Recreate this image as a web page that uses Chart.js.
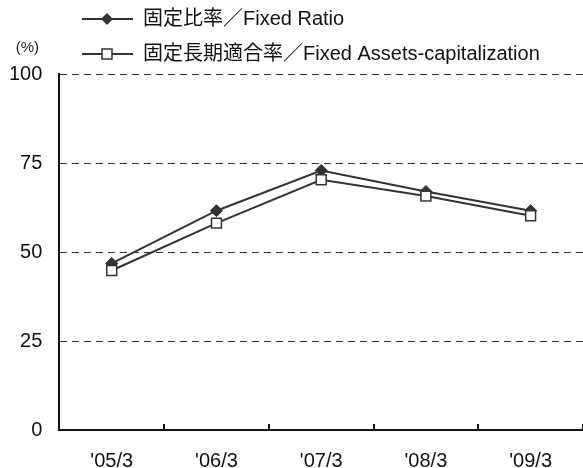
<!DOCTYPE html>
<html>
<head>
<meta charset="utf-8">
<script src="https://cdn.jsdelivr.net/npm/chart.js@4"></script>
<style>
  html, body { margin: 0; padding: 0; background: #fff; }
  #wrap { width: 583px; height: 468px; position: relative; }
</style>
</head>
<body>
<div id="wrap"><canvas id="grafico"></canvas></div>
<script>
// data
const periodos = ["'05/3", "'06/3", "'07/3", "'08/3", "'09/3"];
const fixedRatio = [46.8, 61.6, 72.9, 67.0, 61.6];
const fixedAssetsCap = [44.8, 58.1, 70.3, 65.7, 60.2];
const yTicks = [0, 25, 50, 75, 100];
const nomes = ['固定比率／Fixed Ratio', '固定長期適合率／Fixed Assets-capitalization'];

const fonte = "'Liberation Sans', 'Noto Sans CJK JP', sans-serif";
const cinza = '#333333';

// legend symbol: line with marker, drawn into a small canvas
function simbolo(tipo) {
  const c = document.createElement('canvas');
  c.width = 126;
  c.height = 16;
  const g = c.getContext('2d');
  g.strokeStyle = cinza;
  g.lineWidth = 2;
  g.beginPath();
  g.moveTo(75, 8);
  g.lineTo(126, 8);
  g.stroke();
  if (tipo === 'diamond') {
    g.fillStyle = cinza;
    g.beginPath();
    g.moveTo(100, 2); g.lineTo(106, 8); g.lineTo(100, 14); g.lineTo(94, 8);
    g.closePath();
    g.fill();
  } else {
    g.fillStyle = '#fff';
    g.fillRect(95, 3, 10, 10);
    g.lineWidth = 1.5;
    g.strokeRect(95, 3, 10, 10);
  }
  return c;
}
const simbolos = [simbolo('diamond'), simbolo('square')];

const rotuloPct = {
  id: 'rotuloPct',
  afterDraw(chart) {
    const area = chart.chartArea;
    const ctx = chart.ctx;
    ctx.save();
    ctx.font = '15px ' + fonte;
    ctx.fillStyle = '#222';
    ctx.textAlign = 'center';
    ctx.textBaseline = 'middle';
    ctx.fillText('(%)', area.left - 32, area.top - 26);
    ctx.restore();
  }
};

const ctx = document.getElementById('grafico').getContext('2d');
new Chart(ctx, {
  type: 'line',
  data: {
    labels: periodos,
    datasets: [{
      label: nomes[0],
      data: fixedRatio,
      borderColor: cinza,
      borderWidth: 2,
      pointStyle: 'rectRot',
      pointRadius: 6,
      pointBackgroundColor: cinza,
      pointBorderColor: cinza,
      pointBorderWidth: 1,
      tension: 0,
      order: 2
    }, {
      label: nomes[1],
      data: fixedAssetsCap,
      borderColor: cinza,
      borderWidth: 2,
      pointStyle: 'rect',
      pointRadius: 7,
      pointBackgroundColor: '#fff',
      pointBorderColor: cinza,
      pointBorderWidth: 1.5,
      tension: 0,
      order: 1
    }]
  },
  options: {
    responsive: true,
    maintainAspectRatio: false,
    animation: false,
    layout: {
      autoPadding: false,
      padding: { left: -8, right: -1, top: -8, bottom: -30 }
    },
    scales: {
      x: {
        offset: true,
        afterFit(scale) {
          scale.paddingLeft = 0;
          scale.paddingRight = 0;
        },
        grid: {
          offset: true,
          drawOnChartArea: false,
          tickLength: -6,
          color: '#111',
          lineWidth: 2
        },
        border: { color: '#111', width: 2 },
        ticks: {
          color: '#111',
          padding: 25,
          font: { family: fonte, size: 20 }
        }
      },
      y: {
        min: 0,
        max: 100,
        afterBuildTicks(scale) {
          scale.ticks = yTicks.map(v => ({ value: v }));
        },
        afterFit(scale) {
          scale.paddingTop = 74;
        },
        grid: {
          drawTicks: false,
          color: ctx => ctx.tick && ctx.tick.value === 0 ? 'rgba(0,0,0,0)' : '#333',
          lineWidth: 1
        },
        border: { color: '#111', width: 2, dash: [7, 5] },
        ticks: {
          color: '#111',
          padding: 17,
          font: { family: fonte, size: 20 }
        }
      }
    },
    plugins: {
      legend: {
        position: 'top',
        align: 'start',
        labels: {
          usePointStyle: true,
          pointStyleWidth: 126,
          padding: 15,
          color: '#111',
          font: { family: fonte, size: 20 },
          sort: (a, b) => a.datasetIndex - b.datasetIndex,
          generateLabels(chart) {
            const itens = Chart.defaults.plugins.legend.labels.generateLabels(chart);
            itens.forEach(it => { it.pointStyle = simbolos[it.datasetIndex]; });
            return itens;
          }
        }
      },
      tooltip: { enabled: false }
    }
  },
  plugins: [rotuloPct]
});
</script>
</body>
</html>
